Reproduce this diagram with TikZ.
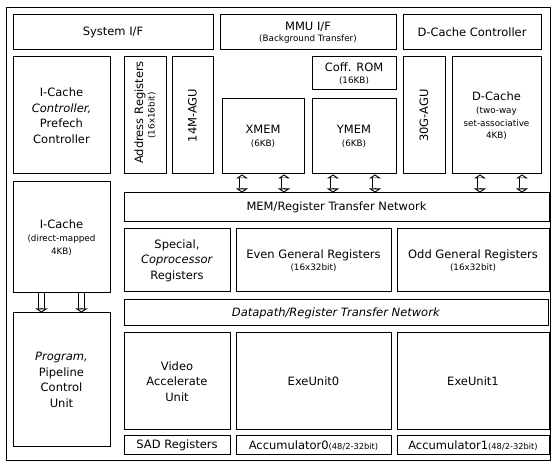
\documentclass[tikz,border=0pt]{standalone}
\usepackage{fontspec}
\setmainfont{DejaVu Sans}
\usetikzlibrary{arrows.meta}

\newcommand{\smtxt}[1]{{\fontsize{8.8}{10}\selectfont #1}}

\begin{document}
\begin{tikzpicture}[x=1pt, y=-1pt,
    blk/.style = {draw, line width=1pt, inner sep=0pt, align=center,
                  font=\fontsize{11.5}{15.5}\selectfont},
    vblk/.style = {blk, rotate=90},
    dbl/.style = {preaction={draw, line width=0.9pt, shorten <=0pt, shorten >=0pt, {Triangle[open, length=4pt, width=12pt]}-{Triangle[open, length=4pt, width=12pt]}},
                  double, double distance=5pt, line width=0.9pt, shorten <=4pt, shorten >=4pt},
    dn/.style = {preaction={draw, line width=0.9pt, shorten <=0pt, shorten >=0pt, -{Triangle[open, length=4pt, width=12pt]}},
                 double, double distance=5pt, line width=0.9pt, shorten >=4pt}]

        \useasboundingbox (0,0) rectangle (552,462);
        \draw[line width=1pt] (6,8) rectangle (550.5,460.5);

        % top row
        \node[blk, minimum width=200, minimum height=35] (sysif) at (113,32.5) {System I/F};
        \node[blk, minimum width=176, minimum height=35] (mmu) at (308,32.5) {MMU I/F\\[-4pt]\smtxt{(Background Transfer)}};
        \node[blk, minimum width=138, minimum height=35] (dcc) at (472,32.5) {D-Cache Controller};

        % memories and address units
        \node[blk, minimum width=97, minimum height=117] (iccc) at (61.5,115.5) {I-Cache\\\textit{Controller,}\\Prefech\\Controller};
        \node[vblk, minimum width=117, minimum height=42] (addr) at (145,115.5) {\hspace{6pt}Address Registers\\[-4pt]\smtxt{(16x16bit)}};
        \node[vblk, minimum width=117, minimum height=41] (agu14) at (192.5,115.5) {14M-AGU};
        \node[blk, minimum width=82, minimum height=75] (xmem) at (263,136.5) {XMEM\\[-3pt]\smtxt{(6KB)}};
        \node[blk, minimum width=84, minimum height=33] (coff) at (354,73.5) {Coff. ROM\\[-4pt]\smtxt{(16KB)}};
        \node[blk, minimum width=84, minimum height=75] (ymem) at (354,136.5) {YMEM\\[-3pt]\smtxt{(6KB)}};
        \node[vblk, minimum width=117, minimum height=42] (agu30) at (424,115.5) {30G-AGU};
        \node[blk, minimum width=89, minimum height=117] (dcache) at (496.5,115.5) {D-Cache\\[-2pt]\smtxt{(two-way}\\[-3pt]\smtxt{set-associative}\\[-3pt]\smtxt{4KB)}};

        % left column
        \node[blk, minimum width=97, minimum height=111] (icache) at (61.5,237.5) {I-Cache\\[-2pt]\smtxt{(direct-mapped}\\[-3pt]\smtxt{4KB)}};
        \node[blk, minimum width=97, minimum height=134] (prog) at (61.5,380) {\textit{Program,}\\Pipeline\\Control\\Unit};

        % register files
        \node[blk, minimum width=425, minimum height=29] (memnet) at (336.5,207.5) {MEM/Register Transfer Network};
        \node[blk, minimum width=106, minimum height=63] (spec) at (177,260.5) {Special,\\\textit{Coprocessor}\\Registers};
        \node[blk, minimum width=155, minimum height=63] (even) at (313.5,260.5) {Even General Registers\\[-3pt]\smtxt{(16x32bit)}};
        \node[blk, minimum width=152, minimum height=63] (odd) at (473,260.5) {Odd General Registers\\[-3pt]\smtxt{(16x32bit)}};
        \node[blk, minimum width=424, minimum height=26] (dpnet) at (336,313) {\textit{Datapath/Register Transfer Network}};

        % execution units
        \node[blk, minimum width=106, minimum height=97] (vau) at (177,381.5) {Video\\Accelerate\\Unit};
        \node[blk, minimum width=155, minimum height=97] (exe0) at (313.5,381.5) {ExeUnit0};
        \node[blk, minimum width=152, minimum height=97] (exe1) at (473,381.5) {ExeUnit1};
        \node[blk, minimum width=106, minimum height=19] (sad) at (177,445.5) {SAD Registers};
        \node[blk, minimum width=155, minimum height=19] (acc0) at (313.5,445.5) {Accumulator0{\fontsize{8.3}{9}\selectfont(48/2-32bit)}};
        \node[blk, minimum width=152, minimum height=19] (acc1) at (473,445.5) {Accumulator1{\fontsize{8.3}{9}\selectfont(48/2-32bit)}};

        % transfers
        \draw[dbl] ([xshift=-21pt]xmem.south) -- ([xshift=-21pt]xmem.south |- memnet.north);
        \draw[dbl] ([xshift=21pt]xmem.south) -- ([xshift=21pt]xmem.south |- memnet.north);
        \draw[dbl] ([xshift=-21pt]ymem.south) -- ([xshift=-21pt]ymem.south |- memnet.north);
        \draw[dbl] ([xshift=21pt]ymem.south) -- ([xshift=21pt]ymem.south |- memnet.north);
        \draw[dbl] ([xshift=-16.5pt]dcache.south) -- ([xshift=-16.5pt]dcache.south |- memnet.north);
        \draw[dbl] ([xshift=25.5pt]dcache.south) -- ([xshift=25.5pt]dcache.south |- memnet.north);
        \draw[dn] ([xshift=-20pt]icache.south) -- ([xshift=-20pt]prog.north);
        \draw[dn] ([xshift=20pt]icache.south) -- ([xshift=20pt]prog.north);

\end{tikzpicture}
\end{document}
